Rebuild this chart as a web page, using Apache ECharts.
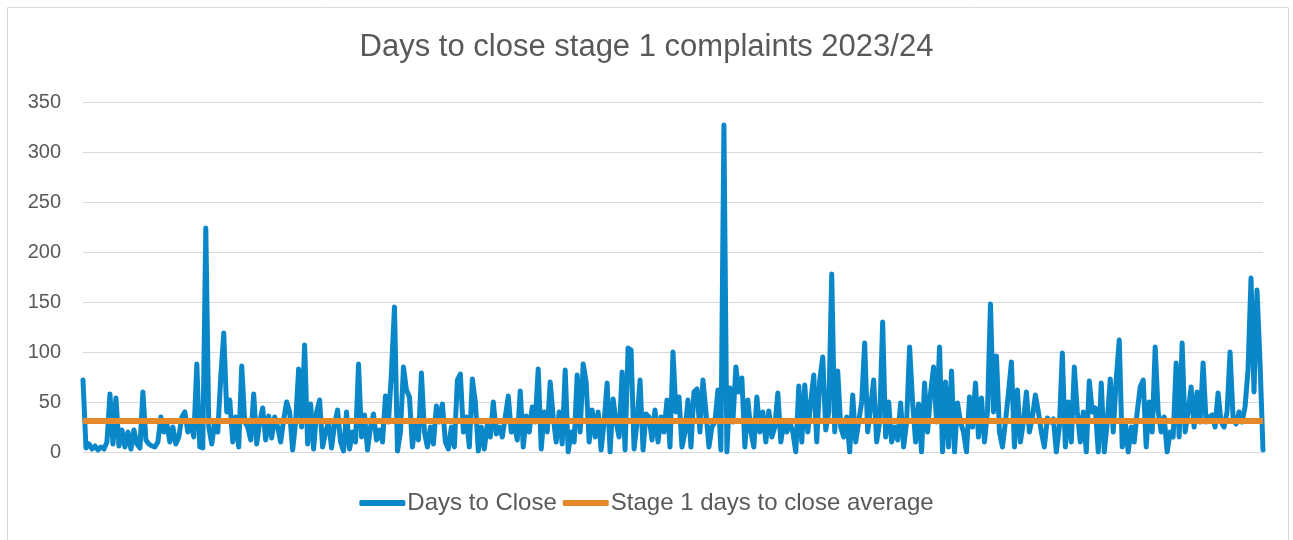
<!DOCTYPE html>
<html>
<head>
<meta charset="utf-8">
<script src="https://cdn.jsdelivr.net/npm/echarts@6/dist/echarts.min.js"></script>
<style>
html,body{margin:0;padding:0;background:#fff;}
#chart{width:1293px;height:540px;}
</style>
</head>
<body>
<div id="chart"></div>
<script>
const chartTitle = 'Days to close stage 1 complaints 2023/24';
const seriesNames = ['Days to Close', 'Stage 1 days to close average'];
const yTicks = [0, 50, 100, 150, 200, 250, 300, 350];
const averageDays = 31;
const daysToClose = [
  72,4,8,3,6,2,5,3,10,58, 8,54,6,22,5,20,3,22,8,4, 60,12,8,6,5,10,35,20,28,10, 25,8,15,35,40,20,30,15,88,5,
  4,224,25,8,30,20,75,119,40,52, 10,35,5,86,30,25,12,58,8,30, 44,12,36,14,35,25,10,32,50,40, 2,30,83,25,107,8,48,3,40,52,
  5,20,30,4,28,42,10,1,40,3, 20,10,88,15,37,2,25,38,12,22, 10,56,30,80,145,1,20,85,62,55, 5,30,12,79,20,5,25,8,46,30,
  48,10,3,25,5,72,78,20,35,5, 73,50,1,25,3,28,15,50,18,25, 15,35,56,20,28,12,61,5,36,20, 45,30,83,3,40,20,70,35,10,40,
  8,82,0,20,10,77,20,88,70,10, 42,15,40,2,30,69,0,53,30,15, 80,2,104,102,3,30,72,2,38,35, 12,42,10,35,20,52,5,100,40,55,
  5,20,52,5,60,63,20,72,40,5, 25,30,62,2,327,0,64,30,85,60, 74,5,52,20,5,55,20,40,10,41, 15,25,59,10,30,20,30,20,0,66,
  10,67,20,50,77,10,72,95,22,40, 178,20,81,25,15,35,0,57,10,30, 50,109,20,45,72,10,30,130,15,50, 10,25,12,49,5,30,105,50,10,48,
  0,69,20,59,85,30,105,0,70,5, 81,0,49,30,20,0,55,25,69,15, 54,10,40,148,40,96,20,5,30,59, 90,5,62,10,30,60,20,35,57,40,
  20,5,34,30,33,0,25,99,5,50, 10,85,40,10,40,0,71,40,44,0, 69,0,30,73,20,73,112,5,30,0, 25,10,40,65,72,5,50,20,105,40,
  20,35,0,20,15,89,15,109,20,40, 65,25,60,30,89,30,35,37,25,59, 30,25,40,100,35,28,40,30,45,82, 174,60,162,90,2
];
const categories = daysToClose.map((_, i) => String(i + 1));
const averageLine = daysToClose.map(() => averageDays);

const chart = echarts.init(document.getElementById('chart'), null, {renderer: 'canvas'});
const txt = '#595959';
chart.setOption({
  animation: false,
  backgroundColor: '#ffffff',
  title: {
    text: chartTitle,
    left: 'center',
    top: 27,
    textStyle: {fontFamily: 'Liberation Sans', fontSize: 31, fontWeight: 'normal', color: txt}
  },
  graphic: [{
    type: 'rect', silent: true,
    shape: {x: 7.5, y: 7.5, width: 1281, height: 545},
    style: {fill: 'none', stroke: '#d9d9d9', lineWidth: 1}
  }],
  legend: {
    bottom: 20,
    left: 'center',
    itemGap: 6,
    itemWidth: 46,
    itemHeight: 6,
    icon: 'roundRect',
    textStyle: {fontFamily: 'Liberation Sans', fontSize: 24, color: txt, padding: [0, 0, 0, -3]},
    data: seriesNames
  },
  grid: {left: 83, right: 30, top: 102, bottom: 88, containLabel: false},
  xAxis: {
    type: 'category',
    data: categories,
    boundaryGap: false,
    axisLine: {show: true, lineStyle: {color: '#d9d9d9', width: 1}},
    axisTick: {show: false},
    axisLabel: {show: false},
    splitLine: {show: false}
  },
  yAxis: {
    type: 'value',
    min: yTicks[0],
    max: yTicks[yTicks.length - 1],
    interval: yTicks[1] - yTicks[0],
    axisLine: {show: false},
    axisTick: {show: false},
    axisLabel: {fontFamily: 'Liberation Sans', fontSize: 20, color: txt, margin: 22},
    splitLine: {lineStyle: {color: '#d9d9d9', width: 1}}
  },
  series: [
    {
      name: seriesNames[0],
      type: 'line',
      data: daysToClose,
      showSymbol: false,
      symbol: 'none',
      color: '#0a87c8',
      lineStyle: {color: '#0a87c8', width: 5, join: 'round', cap: 'round'},
      z: 2
    },
    {
      name: seriesNames[1],
      type: 'line',
      data: averageLine,
      showSymbol: false,
      symbol: 'none',
      color: '#e5892a',
      lineStyle: {color: '#e5892a', width: 6},
      z: 3
    }
  ]
});
</script>
</body>
</html>
